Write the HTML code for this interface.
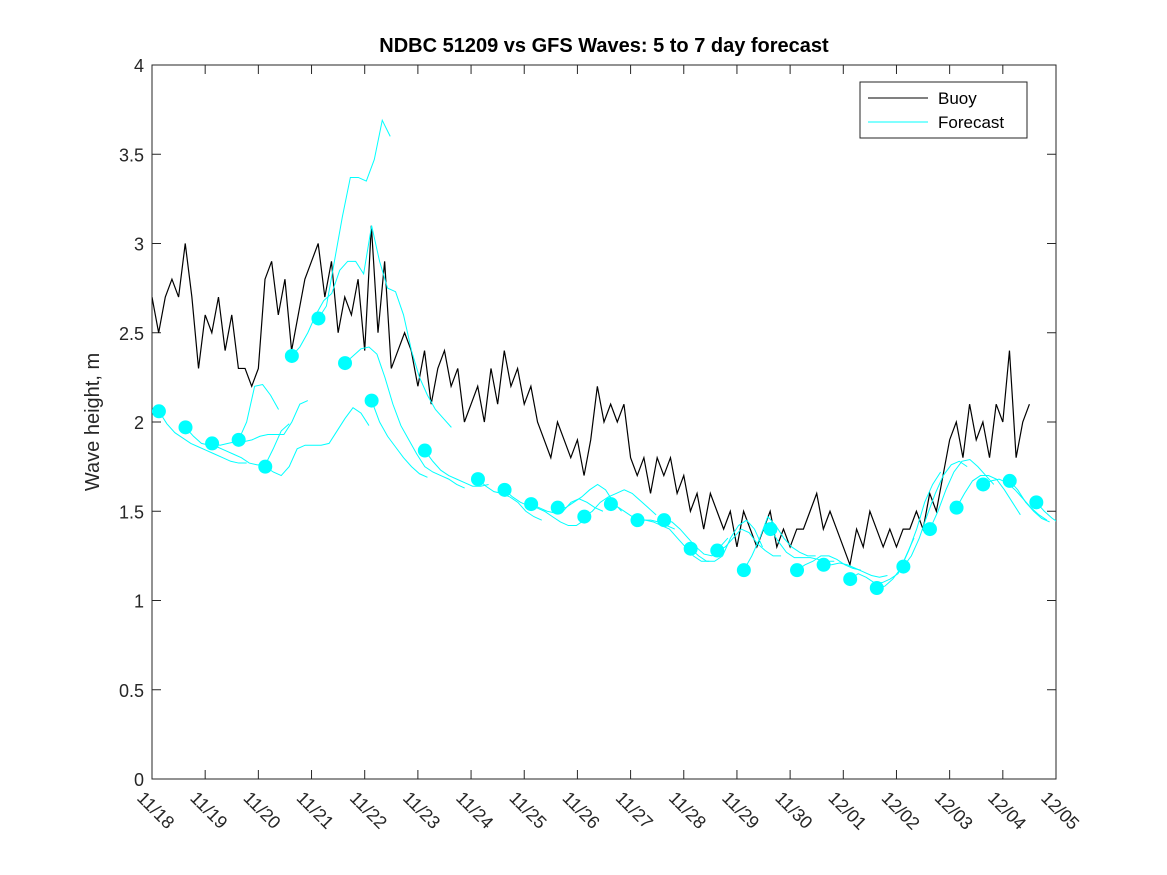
<!DOCTYPE html>
<html><head><meta charset="utf-8"><style>
body{margin:0;background:#fff;font-family:"Liberation Sans","DejaVu Sans",sans-serif}
svg{display:block}
</style></head><body>
<svg id="chart" width="1167" height="875" xmlns="http://www.w3.org/2000/svg">
<rect width="1167" height="875" fill="#fff"/>
<text x="604" y="52" text-anchor="middle" font-size="20" font-weight="bold" fill="#000">NDBC 51209 vs GFS Waves: 5 to 7 day forecast</text>
<text transform="translate(99,422) rotate(-90)" text-anchor="middle" font-size="20" fill="#262626">Wave height, m</text>
<g id="plot"></g>
<g>
<rect x="860" y="82" width="167" height="56" fill="#fff" stroke="#262626" stroke-width="1"/>
<line x1="868" y1="98" x2="928" y2="98" stroke="#000"/>
<text x="938" y="104" font-size="17" fill="#000">Buoy</text>
<line x1="868" y1="122" x2="928" y2="122" stroke="#00ffff"/>
<text x="938" y="128" font-size="17" fill="#000">Forecast</text>
</g>
</svg>
<script>
const xTickLabels=["11/18","11/19","11/20","11/21","11/22","11/23","11/24","11/25","11/26","11/27","11/28","11/29","11/30","12/01","12/02","12/03","12/04","12/05"];
const yTicks=[0,0.5,1,1.5,2,2.5,3,3.5,4];
const buoyStart=0, buoyStep=0.125;
const buoy=[2.7,2.5,2.7,2.8,2.7,3.0,2.7,2.3,
2.6,2.5,2.7,2.4,2.6,2.3,2.3,2.2,
2.3,2.8,2.9,2.6,2.8,2.4,2.6,2.8,
2.9,3.0,2.7,2.9,2.5,2.7,2.6,2.8,
2.4,3.1,2.5,2.9,2.3,2.4,2.5,2.4,
2.2,2.4,2.1,2.3,2.4,2.2,2.3,2.0,
2.1,2.2,2.0,2.3,2.1,2.4,2.2,2.3,
2.1,2.2,2.0,1.9,1.8,2.0,1.9,1.8,
1.9,1.7,1.9,2.2,2.0,2.1,2.0,2.1,
1.8,1.7,1.8,1.6,1.8,1.7,1.8,1.6,
1.7,1.5,1.6,1.4,1.6,1.5,1.4,1.5,
1.3,1.5,1.4,1.3,1.4,1.5,1.3,1.4,
1.3,1.4,1.4,1.5,1.6,1.4,1.5,1.4,
1.3,1.2,1.4,1.3,1.5,1.4,1.3,1.4,
1.3,1.4,1.4,1.5,1.4,1.6,1.5,1.7,
1.9,2.0,1.8,2.1,1.9,2.0,1.8,2.1,
2.0,2.4,1.8,2.0,2.1];
const fcStarts=[0.13,0.63,1.13,1.63,2.13,2.63,3.13,3.63,4.13,5.13,6.13,6.63,7.13,7.63,8.13,8.63,9.13,9.63,10.13,10.63,11.13,11.63,12.13,12.63,13.13,13.63,14.13,14.63,15.13,15.63,16.13,16.63];
const fcStep=0.15;
const fcValues=[
[2.06,1.99,1.94,1.91,1.88,1.86,1.84,1.82,1.80,1.78,1.77,1.77],
[1.97,1.92,1.88,1.87,1.86,1.84,1.82,1.8,1.77,1.76,1.76,1.85,1.95,1.99],
[1.88,1.87,1.88,1.89,1.89,1.90,1.92,1.93,1.93,1.93,2.0,2.1,2.12],
[1.90,2.0,2.2,2.21,2.15,2.07],
[1.75,1.72,1.70,1.75,1.85,1.87,1.87,1.87,1.88,1.95,2.02,2.08,2.05,1.98],
[2.37,2.42,2.5,2.6,2.68,2.72,2.85,2.9,2.9,2.83,3.1,2.9,2.75,2.73,2.6,2.4,2.25,2.15,2.07,2.02,1.97],
[2.58,2.65,2.9,3.15,3.37,3.37,3.35,3.47,3.69,3.6],
[2.33,2.37,2.41,2.42,2.38,2.25,2.1,1.98,1.9,1.82,1.75,1.72,1.70,1.68,1.65,1.63],
[2.12,2.0,1.92,1.86,1.8,1.75,1.71,1.69],
[1.84,1.78,1.73,1.70,1.68,1.66,1.64,1.64,1.65],
[1.68,1.64,1.61,1.60,1.58,1.55,1.50,1.47,1.45],
[1.62,1.58,1.55,1.53,1.52,1.50,1.47,1.44,1.42,1.42,1.45],
[1.54,1.52,1.50,1.49,1.50,1.55,1.57,1.55,1.52,1.50],
[1.52,1.52,1.55,1.58,1.62,1.65,1.62,1.55,1.50],
[1.47,1.50,1.55,1.58,1.60,1.62,1.60,1.56,1.52,1.48],
[1.54,1.52,1.49,1.46,1.45,1.45,1.44,1.42,1.40],
[1.45,1.45,1.44,1.42,1.40,1.35,1.30,1.25,1.22,1.22],
[1.45,1.44,1.40,1.35,1.30,1.26,1.25,1.30,1.35],
[1.29,1.25,1.22,1.22,1.25,1.35,1.42,1.45,1.40,1.30],
[1.28,1.30,1.35,1.40,1.38,1.32,1.28,1.25,1.25],
[1.17,1.25,1.35,1.47,1.42,1.35,1.30,1.27,1.25,1.25],
[1.40,1.33,1.27,1.24,1.24,1.24,1.23,1.22,1.22],
[1.17,1.20,1.22,1.25,1.25,1.23,1.20,1.18,1.17],
[1.20,1.20,1.21,1.20,1.18,1.16,1.14,1.13,1.14],
[1.12,1.15,1.13,1.10,1.10,1.12,1.15,1.25,1.35],
[1.07,1.08,1.12,1.18,1.28,1.40,1.55,1.65,1.72],
[1.19,1.25,1.35,1.48,1.60,1.70,1.76,1.78,1.75],
[1.40,1.50,1.62,1.72,1.78,1.79,1.75,1.70,1.65],
[1.52,1.60,1.67,1.70,1.70,1.68,1.62,1.55,1.48],
[1.65,1.67,1.68,1.66,1.62,1.57,1.52,1.48,1.45],
[1.67,1.62,1.55,1.50,1.46,1.44],
[1.55,1.50,1.46,1.43]];
const dotValues=[2.06,1.97,1.88,1.90,1.75,2.37,2.58,2.33,2.12,1.84,1.68,1.62,1.54,1.52,1.47,1.54,1.45,1.45,1.29,1.28,1.17,1.40,1.17,1.20,1.12,1.07,1.19,1.40,1.52,1.65,1.67,1.55];

const L=152,R=1056,T=65,B=779,D=17,YMAX=4;
const xs=d=>L+d/D*(R-L), ys=v=>B-v/YMAX*(B-T);
const NS="http://www.w3.org/2000/svg";
const g=document.getElementById('plot');
function mk(tag,attrs,parent){const e=document.createElementNS(NS,tag);for(const k in attrs)e.setAttribute(k,attrs[k]);(parent||g).appendChild(e);return e;}
const clip=mk('clipPath',{id:'pc'});mk('rect',{x:L,y:T,width:R-L,height:B-T},clip);
const frame=mk('rect',{x:L,y:T,width:R-L,height:B-T,fill:'#fff',stroke:'#262626','stroke-width':1});


yTicks.forEach(v=>{const y=ys(v);
 mk('line',{x1:L,y1:y,x2:L+9,y2:y,stroke:'#262626'});mk('line',{x1:R,y1:y,x2:R-9,y2:y,stroke:'#262626'});
 const t=mk('text',{x:L-8,y:y+7,'text-anchor':'end','font-size':18,fill:'#262626'});t.textContent=String(v);
 
 });
xTickLabels.forEach((lab,i)=>{const x=xs(i);
 mk('line',{x1:x,y1:B,x2:x,y2:B-9,stroke:'#262626'});mk('line',{x1:x,y1:T,x2:x,y2:T+9,stroke:'#262626'});
 const t=mk('text',{transform:`translate(${x-16},${B+20}) rotate(45)`,'font-size':18,fill:'#262626'});t.textContent=lab;
 
 });
const pg=mk('g',{'clip-path':'url(#pc)'});
const bp=mk('polyline',{points:buoy.map((v,i)=>xs(buoyStart+i*buoyStep)+','+ys(v)).join(' '),fill:'none',stroke:'#000','stroke-width':1.2},pg);


fcValues.forEach((arr,k)=>{
 const p=mk('polyline',{points:arr.map((v,i)=>xs(fcStarts[k]+i*fcStep)+','+ys(v)).join(' '),fill:'none',stroke:'#00ffff','stroke-width':1},pg);
 
 });
dotValues.forEach((v,k)=>{
 const c=mk('circle',{cx:xs(fcStarts[k]),cy:ys(v),r:7,fill:'#00ffff'},pg);
 
 });
</script>
</body></html>
